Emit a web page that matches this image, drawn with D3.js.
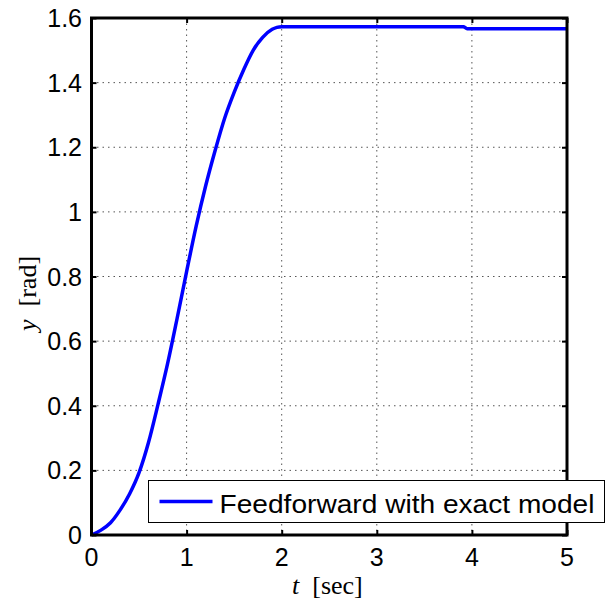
<!DOCTYPE html>
<html>
<head>
<meta charset="utf-8">
<script src="https://cdn.jsdelivr.net/npm/d3@7"></script>
<style>
  body { margin: 0; background: #fff; }
  svg { display: block; }
</style>
</head>
<body>
<div id="chart"></div>
<script>
// step response
var time = [0, 0.1, 0.2, 0.3, 0.4, 0.5, 0.6, 0.7, 0.8, 0.9, 1.0, 1.1, 1.2, 1.3, 1.4, 1.5, 1.6, 1.7, 1.8, 1.9, 1.95, 2.0, 3.91, 3.95, 5.0];
var angle = [0, 0.015, 0.038, 0.077, 0.127, 0.193, 0.287, 0.405, 0.53, 0.67, 0.815, 0.955, 1.08, 1.19, 1.29, 1.37, 1.44, 1.50, 1.54, 1.565, 1.571, 1.573, 1.573, 1.567, 1.567];

var xTicks = [0, 1, 2, 3, 4, 5];
var yTicks = [0, 0.2, 0.4, 0.6, 0.8, 1, 1.2, 1.4, 1.6];
var legendLabel = "Feedforward with exact model";

var W = 606, H = 601;
var margin = {top: 18, right: 39, bottom: 66, left: 91.5},
  width = W - margin.left - margin.right,
  height = H - margin.top - margin.bottom;

var x = d3.scaleLinear().domain([0, 5]).range([0, width]);
var y = d3.scaleLinear().domain([0, 1.6]).range([height, 0]);

var svg = d3.select("#chart").append("svg")
  .attr("width", W)
  .attr("height", H)
  .style("font-family", "'Liberation Sans', Arial, sans-serif");

var g = svg.append("g")
  .attr("transform", "translate(" + margin.left + "," + margin.top + ")");

// dotted grid
g.append("g")
  .selectAll("line")
  .data(xTicks.slice(1, -1))
  .enter().append("line")
    .attr("x1", d => x(d)).attr("x2", d => x(d))
    .attr("y1", 0).attr("y2", height)
    .attr("stroke", "#555").attr("stroke-width", 1)
    .attr("stroke-dasharray", "1.5,4");

g.append("g")
  .selectAll("line")
  .data(yTicks.slice(1, -1))
  .enter().append("line")
    .attr("y1", d => y(d)).attr("y2", d => y(d))
    .attr("x1", 0).attr("x2", width)
    .attr("stroke", "#555").attr("stroke-width", 1)
    .attr("stroke-dasharray", "1.5,4");

// inner ticks on all four sides
var tl = 5;
g.append("g").call(d3.axisBottom(x).tickValues(xTicks).tickSizeInner(-tl).tickSizeOuter(0).tickFormat(""))
  .attr("transform", "translate(0," + height + ")")
  .call(a => a.select(".domain").remove())
  .selectAll("line").attr("stroke-width", 2);
g.append("g").call(d3.axisTop(x).tickValues(xTicks).tickSizeInner(-tl).tickSizeOuter(0).tickFormat(""))
  .call(a => a.select(".domain").remove())
  .selectAll("line").attr("stroke-width", 2);
g.append("g").call(d3.axisLeft(y).tickValues(yTicks).tickSizeInner(-tl).tickSizeOuter(0).tickFormat(""))
  .call(a => a.select(".domain").remove())
  .selectAll("line").attr("stroke-width", 2);
g.append("g").call(d3.axisRight(y).tickValues(yTicks).tickSizeInner(-tl).tickSizeOuter(0).tickFormat(""))
  .attr("transform", "translate(" + width + ",0)")
  .call(a => a.select(".domain").remove())
  .selectAll("line").attr("stroke-width", 2);

// tick labels
g.append("g")
  .selectAll("text")
  .data(xTicks)
  .enter().append("text")
    .attr("x", d => x(d))
    .attr("y", height + 31)
    .attr("text-anchor", "middle")
    .style("font-size", "25px")
    .text(d => d);

g.append("g")
  .selectAll("text")
  .data(yTicks)
  .enter().append("text")
    .attr("x", -9.5)
    .attr("y", d => y(d) + 9)
    .attr("text-anchor", "end")
    .style("font-size", "25px")
    .text(d => d);

// curve
var pts = time.map((t, i) => [t, angle[i]]);
g.append("path")
  .datum(pts)
  .attr("fill", "none")
  .attr("stroke", "#0000ff")
  .attr("stroke-width", 3.5)
  .attr("stroke-linejoin", "round")
  .attr("d", d3.line().x(d => x(d[0])).y(d => y(d[1])).curve(d3.curveMonotoneX));

// box
g.append("rect")
  .attr("width", width)
  .attr("height", height)
  .attr("fill", "none")
  .attr("stroke", "#000")
  .attr("stroke-width", 3);

// legend
var lg = svg.append("g").attr("transform", "translate(148.5,480.5)");
lg.append("rect")
  .attr("width", 456)
  .attr("height", 42)
  .attr("fill", "#fff")
  .attr("stroke", "#000")
  .attr("stroke-width", 1);
lg.append("line")
  .attr("x1", 11).attr("x2", 64)
  .attr("y1", 21).attr("y2", 21)
  .attr("stroke", "#0000ff").attr("stroke-width", 3.5);
lg.append("text")
  .attr("x", 71)
  .attr("y", 32)
  .attr("textLength", 375)
  .attr("lengthAdjust", "spacingAndGlyphs")
  .style("font-size", "25px")
  .text(legendLabel);

// axis labels (LaTeX-style serif)
var serif = "'Liberation Serif', 'Times New Roman', serif";
var xl = svg.append("text")
  .attr("x", 292)
  .attr("y", 594)
  .style("font-family", serif)
  .style("font-size", "26px");
xl.append("tspan").style("font-style", "italic").text("t");
xl.append("tspan").text("\u00a0\u00a0[sec]");

var yl = svg.append("text")
  .attr("transform", "translate(36,331) rotate(-90)")
  .style("font-family", serif)
  .style("font-size", "26px");
yl.append("tspan").style("font-style", "italic").text("y");
yl.append("tspan").text("\u00a0\u00a0[rad]");
</script>
</body>
</html>
